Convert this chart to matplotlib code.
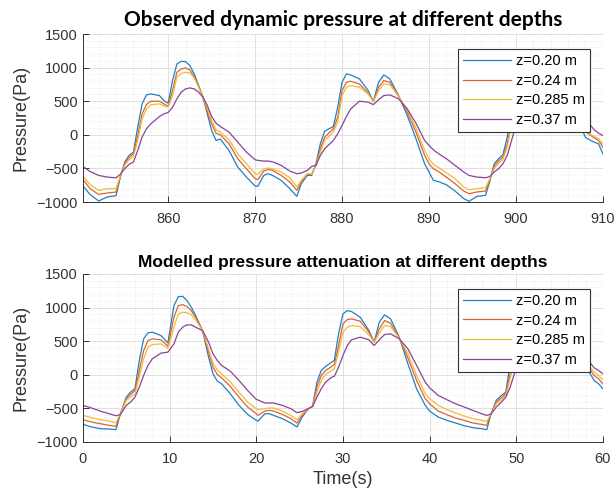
import numpy as np
import matplotlib
matplotlib.use("Agg")
import matplotlib.pyplot as plt
from matplotlib.ticker import MultipleLocator

# observed record (time in s, pressure in Pa)
t_obs = [850.3, 851, 852, 853, 854, 854.5, 855, 855.5, 856, 856.5, 857, 857.5, 858, 859,
         859.5, 860, 860.5, 861, 861.5, 862, 862.5, 863, 863.5, 864, 864.5, 865, 865.5,
         866, 867, 868, 869, 870, 870.3, 871, 871.5, 872, 873, 874, 874.8, 875.3, 876,
         876.5, 877, 877.5, 878, 879, 879.5, 880, 880.5, 881, 882, 883, 883.6, 884.2,
         884.8, 885.5, 886.5, 887.5, 888.5, 889.5, 890, 890.5, 891, 892, 893, 894, 894.6,
         895.5, 896.5, 897, 897.5, 898, 898.5, 899, 899.5, 900, 901, 902, 903, 904, 905,
         906, 907, 908, 908.6, 909, 909.5, 910]
obs_020 = [-777, -886, -985, -925, -906, -630, -406, -307, -257, 114, 460, 594, 609, 584,
           510, 470, 807, 1054, 1094, 1089, 1030, 906, 733, 560, 312, 64, -84,
           -64, -233, -480, -629, -762, -767, -604, -579, -604, -678, -802, -916, -728, -604,
           -604, -430, -134, 54, 124, 411, 782, 906, 891, 832, 658, 495, 782,
           891, 832, 584, 287, -59, -431, -554, -678, -693, -743, -837, -950, -990,
           -916, -901, -690, -431, -356, -297, -35, 411, 800, 900, 850, 650, 850, 800,
           550, 250, -40, -84, -109, -134, -282]
obs_024 = [-678, -800, -886, -866, -851, -620, -430, -341, -282, -10, 312, 450, 500, 500,
           460, 425, 658, 930, 980, 995, 965, 866, 718, 560, 361, 163, 25,
           0, -134, -356, -505, -653, -668, -540, -515, -530, -604, -703, -827, -703, -589,
           -590, -450, -208, -35, 89, 262, 658, 782, 797, 757, 619, 495, 708,
           807, 782, 575, 337, 40, -307, -431, -505, -540, -629, -728, -837, -876,
           -851, -837, -670, -470, -391, -332, -134, 213, 650, 780, 760, 600, 780, 750,
           540, 300, 50, -10, -45, -84, -183]
obs_0285 = [-630, -738, -827, -802, -802, -610, -455, -371, -322, -84, 238, 386, 446, 460,
            430, 411, 584, 856, 916, 930, 920, 846, 708, 560, 386, 213, 74,
            40, -74, -282, -431, -579, -590, -505, -495, -505, -554, -639, -777, -678, -580,
            -585, -455, -257, -84, 40, 188, 584, 708, 733, 708, 609, 495, 658,
            757, 747, 570, 371, 99, -233, -356, -440, -480, -564, -653, -777, -817,
            -802, -787, -655, -505, -420, -371, -183, 139, 550, 700, 700, 580, 720, 720,
            540, 320, 80, 5, -25, -59, -134]
obs_037 = [-480, -545, -604, -629, -640, -585, -505, -440, -406, -233, -35, 89, 163, 272,
           312, 332, 411, 535, 634, 683, 698, 683, 634, 560, 436, 272, 173,
           124, 40, -109, -257, -371, -380, -391, -391, -401, -455, -540, -579, -569, -530,
           -470, -455, -307, -208, -84, 15, 139, 272, 386, 500, 485, 450, 520,
           584, 594, 535, 386, 173, -84, -158, -223, -272, -356, -455, -554, -604,
           -629, -639, -620, -554, -505, -431, -307, -84, 150, 350, 480, 480, 560, 600,
           530, 380, 200, 139, 74, 25, -10]

# modelled record
t_mod = [0, 1, 2, 3, 3.8, 4.3, 5, 5.5, 6, 6.5, 7, 7.5, 8, 9, 9.8, 10.5, 11, 11.5, 12,
         12.5, 13, 13.8, 14.5, 15, 15.5, 16, 17, 18, 19, 20, 20.2, 21, 21.5, 22, 23, 24,
         24.7, 25.3, 26, 26.5, 27, 27.5, 28, 28.7, 29, 29.5, 30, 30.5, 31, 32, 33, 33.6,
         34.2, 34.8, 35.5, 36.5, 37.5, 38.5, 39.5, 40, 41, 42, 43, 44, 45, 46, 46.6, 47.1,
         47.7, 48.3, 48.8, 49.3, 50, 51, 52, 53, 54, 55, 56, 57, 57.7, 58.3, 59, 59.5, 60]
mod_020 = [-738, -777, -802, -807, -817, -590, -332, -257, -208, 213, 535, 624, 634, 584,
           475, 1030, 1163, 1168, 1104, 1005, 881, 658, 262, 15, -94, -134, -282, -455,
           -589, -678, -688, -579, -579, -604, -653, -718, -777, -629, -505, -470, -109, 64,
           124, 188, 213, 609, 906, 955, 941, 856, 658, 485, 782, 891, 832, 560, 163, -208,
           -455, -540, -629, -678, -718, -757, -787, -802, -817, -579, -381, -307, -257,
           163, 700, 1000, 1050, 900, 600, 950, 800, 500, 250, 64, -84, -134, -208]
mod_024 = [-668, -703, -728, -752, -767, -585, -356, -292, -233, 64, 361, 510, 535, 520,
           426, 856, 1030, 1044, 1015, 955, 856, 658, 337, 114, 5, -45, -173, -332,
           -480, -579, -604, -540, -530, -540, -589, -653, -718, -604, -505, -470, -183, -10,
           64, 124, 153, 436, 757, 822, 832, 797, 634, 485, 683, 807, 767, 550, 252, -84,
           -356, -431, -540, -594, -644, -678, -718, -738, -752, -580, -406, -341, -282,
           15, 500, 850, 950, 850, 600, 850, 750, 520, 300, 110, -10, -59, -134]
mod_0285 = [-604, -639, -668, -688, -713, -580, -380, -330, -282, -35, 238, 411, 450, 460,
            396, 708, 906, 930, 925, 896, 817, 658, 386, 173, 74, 15, -109, -257,
            -406, -505, -515, -505, -495, -495, -540, -604, -668, -579, -505, -470, -257, -84,
            5, 64, 89, 337, 634, 708, 733, 718, 594, 485, 619, 733, 718, 545, 312, -10,
            -282, -356, -455, -520, -569, -614, -653, -678, -693, -582, -431, -371, -310,
            -59, 400, 700, 850, 800, 620, 750, 700, 530, 330, 140, 40, -10, -74]
mod_037 = [-455, -495, -540, -579, -609, -595, -455, -406, -332, -183, -10, 139, 238, 322,
           337, 460, 634, 708, 743, 743, 708, 658, 485, 312, 213, 139, 54, -84,
           -233, -366, -375, -420, -420, -420, -455, -505, -564, -545, -505, -470, -332, -208,
           -109, -35, -25, 114, 287, 436, 520, 560, 520, 436, 520, 599, 609, 535, 386, 139,
           -109, -193, -307, -371, -431, -480, -530, -579, -604, -585, -480, -406, -332,
           -183, 100, 400, 600, 650, 600, 600, 620, 550, 380, 213, 104, 64, 15]

labels = ["z=0.20 m", "z=0.24 m", "z=0.285 m", "z=0.37 m"]
colors = ["#1f80c4", "#dc6430", "#efbb3a", "#8a4399"]

plt.rcParams['font.family'] = ['Liberation Sans', 'DejaVu Sans']

fig = plt.figure(figsize=(6.16, 4.95), dpi=100)
ax1 = fig.add_axes([0.1347, 0.5919, 0.844, 0.3394])
ax2 = fig.add_axes([0.1347, 0.1071, 0.844, 0.3394])


def style(ax, t, series, xlim):
    for y, c, lab in zip(series, colors, labels):
        ax.plot(t, y, color=c, linewidth=0.9, label=lab)
    ax.set_xlim(*xlim)
    ax.set_ylim(-1000, 1500)
    ax.xaxis.set_major_locator(MultipleLocator(10))
    ax.xaxis.set_minor_locator(MultipleLocator(2))
    ax.yaxis.set_major_locator(MultipleLocator(500))
    ax.yaxis.set_minor_locator(MultipleLocator(100))
    ax.grid(True, which='major', color='#dadada', linewidth=0.6)
    ax.grid(True, which='minor', color='#e2e2e2', linewidth=0.5, linestyle=':')
    ax.set_axisbelow(True)
    for s in ['top', 'right']:
        ax.spines[s].set_visible(False)
    for s in ['left', 'bottom']:
        ax.spines[s].set_color('#333333')
        ax.spines[s].set_linewidth(0.7)
    ax.tick_params(which='major', direction='in', length=4, width=0.7,
                   labelsize=10.5, colors='#333333')
    ax.tick_params(axis='x', which='major', pad=7)
    ax.tick_params(which='minor', length=0)
    ax.set_ylabel("Pressure(Pa)", fontsize=13, color='#333333', labelpad=5)
    leg = ax.legend(loc='upper right', bbox_to_anchor=(0.975, 0.911), fontsize=10.5,
                    frameon=True, fancybox=False, framealpha=1, edgecolor='#333333',
                    handlelength=3.3, labelspacing=0.38, borderpad=0.35, handletextpad=0.3,
                    borderaxespad=0)
    leg.get_frame().set_linewidth(0.8)


style(ax1, t_obs, [obs_020, obs_024, obs_0285, obs_037], (850.2, 910))
style(ax2, t_mod, [mod_020, mod_024, mod_0285, mod_037], (0, 60))

ax1.set_title("Observed dynamic pressure at different depths", fontsize=15,
              fontweight='bold', family='Lato', pad=6)
ax2.set_title("Modelled pressure attenuation at different depths", fontsize=12.5,
              fontweight='bold', pad=5)
ax2.set_xlabel("Time(s)", fontsize=13, color='#333333', labelpad=4)

fig.savefig("out.png", dpi=100, facecolor='white')
